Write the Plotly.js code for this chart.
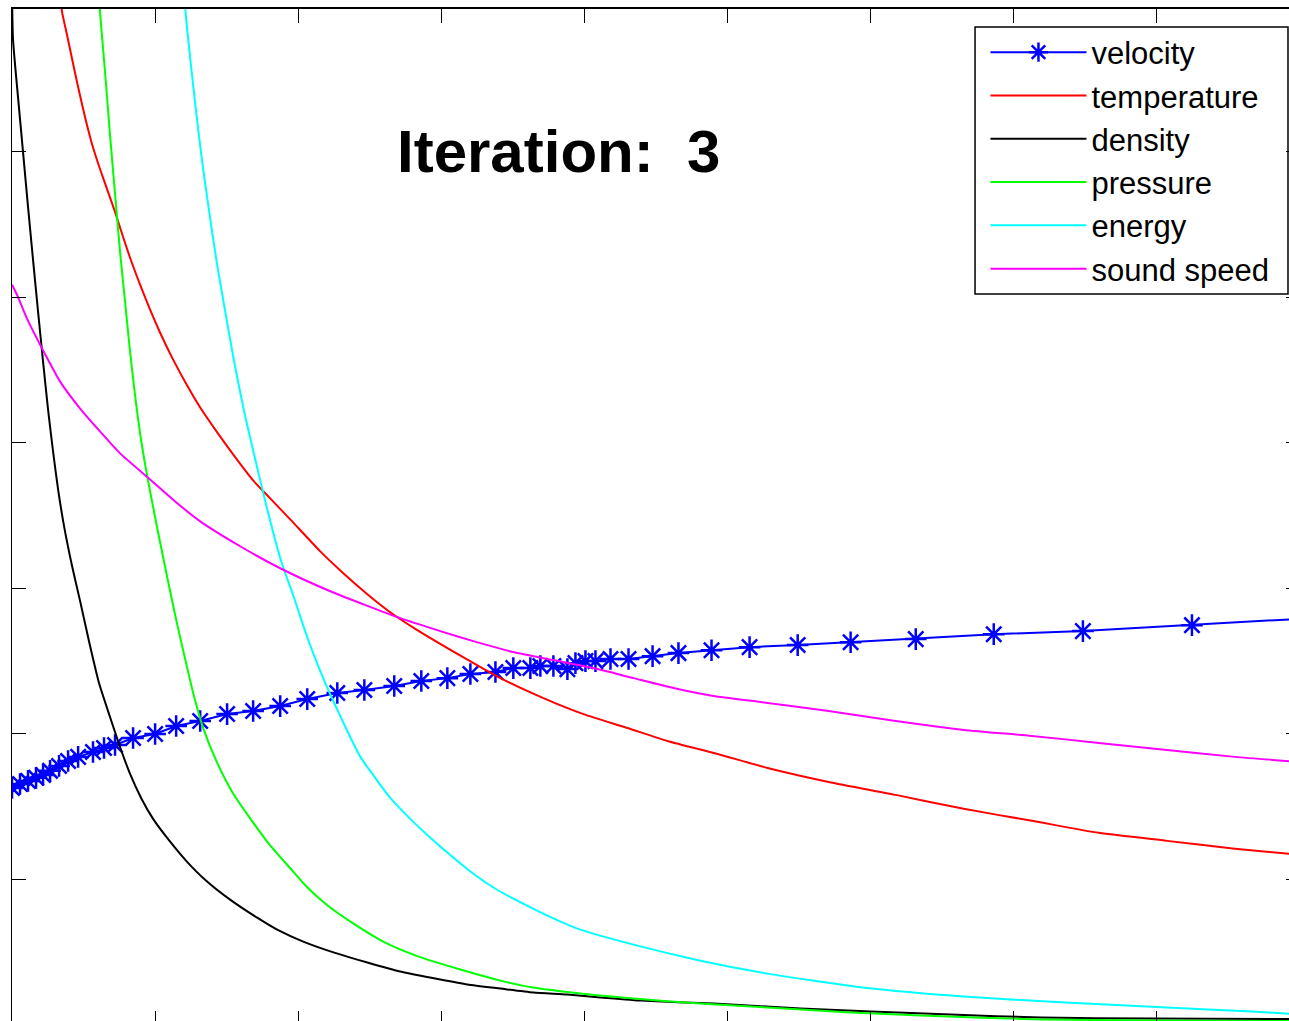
<!DOCTYPE html>
<html>
<head>
<meta charset="utf-8">
<script src="https://cdn.plot.ly/plotly-3.0.1.min.js"></script>
<style>
  html, body { margin: 0; padding: 0; overflow: hidden; background: #fff; }
  #chart { width: 1301px; height: 1026px; }
</style>
</head>
<body>
<div id="chart"></div>
<script>
// Flow variables along the domain after iteration 3
const xVelocity = [0, 0.0056, 0.0112, 0.0168, 0.0217, 0.0266, 0.0329, 0.0392, 0.0462, 0.0566, 0.0643, 0.0720,
  0.0846, 0.1000, 0.1147, 0.1315, 0.1503, 0.1685, 0.1874, 0.2063, 0.2273, 0.2462, 0.2671, 0.2860, 0.3042,
  0.3203, 0.3378, 0.3503, 0.3622, 0.3692, 0.3783, 0.3881, 0.3937, 0.4007, 0.4077, 0.4182, 0.4308, 0.4476,
  0.4657, 0.4888, 0.5154, 0.5490, 0.5860, 0.6315, 0.6860, 0.7483, 0.8245, 0.9000];
const velocity = [1.629, 1.656, 1.677, 1.698, 1.718, 1.746, 1.780, 1.814, 1.842, 1.876, 1.903, 1.924,
  1.972, 1.999, 2.054, 2.088, 2.136, 2.157, 2.191, 2.239, 2.281, 2.301, 2.329, 2.363, 2.383,
  2.411, 2.425, 2.452, 2.452, 2.466, 2.466, 2.445, 2.486, 2.500, 2.500, 2.514, 2.514, 2.534,
  2.555, 2.575, 2.596, 2.610, 2.630, 2.651, 2.685, 2.706, 2.747, 2.791];

const xTemperature = [0.0336, 0.0350, 0.0385, 0.0420, 0.0462, 0.0510, 0.0559, 0.0615, 0.0671, 0.0720, 0.0769,
  0.0825, 0.0895, 0.0965, 0.1035, 0.1126, 0.1224, 0.1315, 0.1434, 0.1545, 0.1685, 0.1804, 0.1944, 0.2154,
  0.2315, 0.2483, 0.2643, 0.2832, 0.3140, 0.3413, 0.3713, 0.3993, 0.4301, 0.4580, 0.4930, 0.5280,
  0.5706, 0.6175, 0.6650, 0.7126, 0.7594, 0.8070, 0.8545, 0.9000];
const temperature = [7.095, 6.958, 6.800, 6.636, 6.444, 6.238, 6.053, 5.881, 5.724, 5.586, 5.436,
  5.271, 5.086, 4.914, 4.756, 4.571, 4.393, 4.242, 4.071, 3.920, 3.741, 3.618, 3.474, 3.254,
  3.104, 2.960, 2.836, 2.713, 2.534, 2.383, 2.246, 2.136, 2.040, 1.951, 1.862, 1.766,
  1.670, 1.581, 1.485, 1.403, 1.320, 1.265, 1.211, 1.169];

const xDensity = [0, 0.0007, 0.0042, 0.0077, 0.0112, 0.0147, 0.0182, 0.0217, 0.0252, 0.0287, 0.0322, 0.0364,
  0.0420, 0.0476, 0.0538, 0.0608, 0.0685, 0.0755, 0.0825, 0.0902, 0.0986, 0.1105, 0.1217, 0.1357, 0.1524,
  0.1713, 0.1853, 0.2035, 0.2252, 0.2483, 0.2713, 0.2993, 0.3182, 0.3413, 0.3643, 0.3881, 0.4112, 0.4392,
  0.4902, 0.5510, 0.6000, 0.6559, 0.7189, 0.7958, 0.9000];
const density = [7.100, 6.773, 6.375, 5.998, 5.621, 5.257, 4.901, 4.558, 4.228, 3.940, 3.680, 3.426,
  3.152, 2.912, 2.637, 2.349, 2.116, 1.910, 1.725, 1.560, 1.416, 1.259, 1.128, 0.991, 0.861,
  0.737, 0.655, 0.573, 0.497, 0.429, 0.367, 0.312, 0.278, 0.250, 0.223, 0.209, 0.189, 0.168,
  0.147, 0.113, 0.093, 0.072, 0.051, 0.045, 0.041];

const xPressure = [0.0601, 0.0615, 0.0650, 0.0685, 0.0720, 0.0755, 0.0790, 0.0825, 0.0860, 0.0895, 0.0930,
  0.0965, 0.1000, 0.1056, 0.1105, 0.1154, 0.1210, 0.1266, 0.1336, 0.1434, 0.1545, 0.1664, 0.1804, 0.1944,
  0.2063, 0.2203, 0.2392, 0.2601, 0.2832, 0.3133, 0.3413, 0.3643, 0.3972, 0.4343, 0.4811, 0.5280, 0.5860,
  0.6350, 0.7189, 0.7958, 0.9000];
const pressure = [7.130, 6.958, 6.547, 6.114, 5.710, 5.312, 4.969, 4.626, 4.324, 4.064, 3.851,
  3.666, 3.488, 3.213, 2.980, 2.754, 2.514, 2.281, 2.040, 1.801, 1.591, 1.420, 1.234, 1.077,
  0.946, 0.823, 0.693, 0.569, 0.473, 0.381, 0.305, 0.257, 0.216, 0.182, 0.147, 0.120, 0.086,
  0.065, 0.038, 0.031, 0.027];

const xEnergy = [0.1206, 0.1213, 0.1248, 0.1287, 0.1329, 0.1378, 0.1430, 0.1490, 0.1552, 0.1622, 0.1703,
  0.1787, 0.1881, 0.1972, 0.2063, 0.2154, 0.2245, 0.2343, 0.2434, 0.2538, 0.2643, 0.2783, 0.2923, 0.3077,
  0.3224, 0.3378, 0.3531, 0.3727, 0.3951, 0.4343, 0.4811, 0.5280, 0.5944, 0.6650, 0.7364, 0.8070, 0.8664,
  0.9000];
const energy = [7.095, 6.958, 6.615, 6.272, 5.929, 5.586, 5.243, 4.901, 4.558, 4.215, 3.872,
  3.529, 3.186, 2.932, 2.664, 2.431, 2.226, 2.020, 1.842, 1.698, 1.560, 1.416, 1.286, 1.156,
  1.039, 0.936, 0.854, 0.758, 0.662, 0.552, 0.442, 0.353, 0.257, 0.195, 0.154, 0.120, 0.093,
  0.072];

const xSoundSpeed = [0, 0.0035, 0.0105, 0.0196, 0.0266, 0.0336, 0.0476, 0.0615, 0.0755, 0.0965, 0.1140,
  0.1315, 0.1594, 0.1874, 0.2224, 0.2713, 0.2993, 0.3224, 0.3503, 0.3783, 0.4063, 0.4343, 0.4622, 0.4902,
  0.5231, 0.5706, 0.6175, 0.6650, 0.7126, 0.7594, 0.8070, 0.8545, 0.9000];
const soundSpeed = [5.086, 5.017, 4.853, 4.674, 4.544, 4.420, 4.235, 4.078, 3.927, 3.748, 3.597,
  3.460, 3.289, 3.138, 2.980, 2.795, 2.706, 2.637, 2.562, 2.507, 2.452, 2.383, 2.315, 2.260,
  2.219, 2.157, 2.088, 2.027, 1.986, 1.938, 1.890, 1.842, 1.807];

const seriesNames = ['velocity', 'temperature', 'density', 'pressure', 'energy', 'sound speed'];
const seriesColors = ['#0000ff', '#ff0000', '#000000', '#00ff00', '#00ffff', '#ff00ff'];
const iterationLabel = 'Iteration:\u00a0 3';

const xs = [xVelocity, xTemperature, xDensity, xPressure, xEnergy, xSoundSpeed];
const ys = [velocity, temperature, density, pressure, energy, soundSpeed];

const traces = seriesNames.map((name, i) => {
  const t = {
    x: xs[i],
    y: ys[i],
    name: name,
    legendgroup: name,
    type: 'scatter',
    mode: i === 0 ? 'lines+markers' : 'lines',
    line: i === 0
      ? { color: seriesColors[i], width: 2 }
      : { color: seriesColors[i], width: 2, shape: 'spline', smoothing: 0.6 }
  };
  if (i === 0) {
    t.marker = { symbol: 'asterisk-open', size: 18, color: seriesColors[i], line: { color: seriesColors[i], width: 2.5 } };
  }
  return t;
});

const axisCommon = {
  showgrid: false,
  zeroline: false,
  showticklabels: false,
  showline: true,
  linecolor: '#000',
  mirror: 'ticks',
  ticks: 'inside',
  ticklen: 14,
  tickwidth: 1,
  tickcolor: '#000'
};

const layout = {
  width: 1301,
  height: 1026,
  margin: { l: 12, r: 1, t: 9, b: 1, pad: 0 },
  paper_bgcolor: '#fff',
  plot_bgcolor: '#fff',
  showlegend: true,
  xaxis: Object.assign({}, axisCommon, { range: [0, 0.9], tick0: 0, dtick: 0.1, linewidth: 2 }),
  yaxis: Object.assign({}, axisCommon, { range: [0, 6.98], tick0: 0, dtick: 1, linewidth: 1 }),
  legend: {
    x: 0.7558, y: 0.98376, xanchor: 'left', yanchor: 'top',
    bgcolor: 'rgba(255,255,255,0)', borderwidth: 0,
    font: { family: 'Liberation Sans, Arial, sans-serif', size: 31, color: '#000' },
    itemwidth: 96,
    traceorder: 'grouped',
    tracegroupgap: 0
  },
  // legend frame
  shapes: [{
    type: 'rect', xref: 'paper', yref: 'paper',
    x0: 0.7477, x1: 0.99068, y0: 0.71949, y1: 0.98228,
    line: { color: '#000', width: 1.5 },
    fillcolor: '#fff',
    layer: 'below'
  }],
  annotations: [{
    text: iterationLabel,
    xref: 'paper', yref: 'paper',
    x: 0.4240, y: 0.8597,
    xanchor: 'center', yanchor: 'middle',
    showarrow: false,
    font: { family: 'Liberation Sans, Arial, sans-serif', size: 60, color: '#000', weight: 'bold' }
  }]
};

Plotly.newPlot('chart', traces, layout, { staticPlot: true, displayModeBar: false });
</script>
</body>
</html>
